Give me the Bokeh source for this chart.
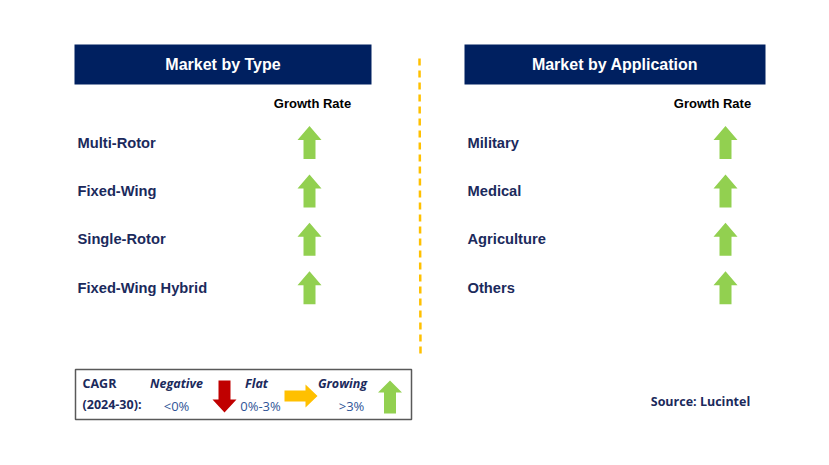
from bokeh.plotting import figure
from bokeh.models import Range1d, ColumnDataSource
from bokeh.core.properties import value
from bokeh.embed import file_html
from bokeh.resources import INLINE

# ---- data ----
type_title = "Market by Type"
app_title = "Market by Application"
type_categories = ["Multi-Rotor", "Fixed-Wing", "Single-Rotor", "Fixed-Wing Hybrid"]
type_growth = ["Growing", "Growing", "Growing", "Growing"]
app_categories = ["Military", "Medical", "Agriculture", "Others"]
app_growth = ["Growing", "Growing", "Growing", "Growing"]
legend_labels = ["Negative", "Flat", "Growing"]
legend_ranges = ["<0%", "0%-3%", ">3%"]
cagr_label = ["CAGR", "(2024-30):"]
source_text = "Source: Lucintel"

# ---- style ----
NAVY = "#002060"
TEXT_NAVY = "#1b2a5c"
GREEN = "#92d050"
RED = "#c00000"
YELLOW = "#ffc000"
LEG_BLUE = "#2f5597"
COLORS = {"Growing": GREEN, "Negative": RED, "Flat": YELLOW}

p = figure(width=813, height=449, output_backend="svg", toolbar_location=None,
           x_range=Range1d(0, 813), y_range=Range1d(449, 0),
           x_axis_type=None, y_axis_type=None, min_border=0)
p.outline_line_color = None
p.grid.visible = False
p.background_fill_color = "white"
p.border_fill_color = "white"

def up_arrow(cx, top, h, hw=12, sw=6, hh=14):
    xs = [cx, cx + hw, cx + sw, cx + sw, cx - sw, cx - sw, cx - hw]
    ys = [top, top + hh, top + hh, top + h, top + h, top + hh, top + hh]
    return xs, ys

def down_arrow(cx, top, h, hw=12, sw=6, hh=13):
    bot = top + h
    xs = [cx, cx + hw, cx + sw, cx + sw, cx - sw, cx - sw, cx - hw]
    ys = [bot, bot - hh, bot - hh, top, top, bot - hh, bot - hh]
    return xs, ys

def right_arrow(left, cy, w, hh=11.5, sh=5.5, hw=12):
    tip = left + w
    xs = [tip, tip - hw, tip - hw, left, left, tip - hw, tip - hw]
    ys = [cy, cy - hh, cy - sh, cy - sh, cy + sh, cy + sh, cy + hh]
    return xs, ys

def arrow_for(kind, cx, cy, h=33):
    if kind == "Growing":
        return up_arrow(cx, cy - h / 2, h)
    if kind == "Negative":
        return down_arrow(cx, cy - h / 2, h)
    return right_arrow(cx - 17, cy, 34)

# headers
p.quad(left=[74, 464], right=[371, 765], top=[44, 44], bottom=[84, 84],
       fill_color=NAVY, line_color=None)
p.text(x=[222.5, 614.5], y=[64, 64], text=[type_title, app_title],
       text_color="white", text_font=value("Liberation Sans"), text_font_style="bold",
       text_font_size="16px", text_align="center", text_baseline="middle")

# growth rate headers
p.text(x=[312, 712], y=[103, 103], text=["Growth Rate", "Growth Rate"],
       text_color="black", text_font=value("Liberation Sans"), text_font_style="bold",
       text_font_size="13px", text_align="center", text_baseline="middle")

row0, step = 142, 48.4

for cats, growth, lx, ax in [(type_categories, type_growth, 77, 309),
                             (app_categories, app_growth, 467, 725)]:
    ys = [row0 + i * step for i in range(len(cats))]
    p.text(x=[lx] * len(cats), y=ys, text=cats, text_color=TEXT_NAVY,
           text_font=value("Liberation Sans"), text_font_style="bold",
           text_font_size="14.7px", text_align="left", text_baseline="middle")
    axs, ays, cols = [], [], []
    for g, y in zip(growth, ys):
        xx, yy = arrow_for(g, ax, y)
        axs.append(xx); ays.append(yy); cols.append(COLORS[g])
    p.patches(xs=axs, ys=ays, fill_color=cols, line_color=None)

# dashed divider
p.line(x=[419, 420], y=[58, 355], line_color=YELLOW, line_width=2.5, line_dash="7 5")

# legend box
p.quad(left=[75], right=[411], top=[369], bottom=[419], fill_color=None,
       line_color="#595959", line_width=1.5)
p.text(x=[82, 82], y=[383, 404], text=cagr_label, text_color=TEXT_NAVY,
       text_font=value("Open Sans"), text_font_style="bold", text_font_size="12.5px",
       text_align="left", text_baseline="middle")
leg_label_x = [176, 256, 342]
leg_range_x = [176, 260, 351]
p.text(x=leg_label_x, y=[383] * 3, text=legend_labels, text_color=TEXT_NAVY,
       text_font=value("Open Sans"), text_font_style="bold italic", text_font_size="12.5px",
       text_align="center", text_baseline="middle")
p.text(x=leg_range_x, y=[405] * 3, text=legend_ranges, text_color=LEG_BLUE,
       text_font=value("Open Sans"), text_font_size="13px",
       text_align="center", text_baseline="middle")
lx1, ly1 = down_arrow(224, 380, 32)
lx2, ly2 = right_arrow(284, 395.5, 33)
lx3, ly3 = up_arrow(389.5, 380, 33, hh=12)
p.patches(xs=[lx1, lx2, lx3], ys=[ly1, ly2, ly3],
          fill_color=[COLORS[k] for k in legend_labels], line_color=None)

# source
p.text(x=[700], y=[401], text=[source_text], text_color=TEXT_NAVY,
       text_font=value("Open Sans"), text_font_style="bold", text_font_size="12.5px",
       text_align="center", text_baseline="middle")

open("out.html", "w").write(file_html(p, INLINE))
